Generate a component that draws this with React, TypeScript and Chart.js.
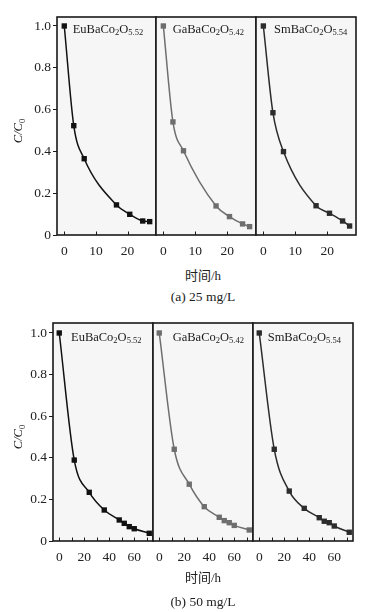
import React, { useEffect, useRef } from 'react';
import { Chart, registerables } from 'chart.js';

Chart.register(...registerables);

// ---------- data ----------
const timesA = [0, 3, 6.3, 16.5, 20.7, 24.8, 27];
const euA = [1.0, 0.523, 0.365, 0.144, 0.099, 0.067, 0.064];
const gaA = [1.0, 0.541, 0.403, 0.139, 0.088, 0.053, 0.04];
const smA = [1.0, 0.585, 0.399, 0.14, 0.104, 0.067, 0.043];

const timesB = [0, 12, 24, 36, 48, 52, 56, 60, 72];
const euB = [1.0, 0.389, 0.234, 0.149, 0.101, 0.085, 0.069, 0.059, 0.037];
const gaB = [1.0, 0.441, 0.273, 0.165, 0.114, 0.098, 0.088, 0.075, 0.053];
const smB = [1.0, 0.441, 0.24, 0.157, 0.112, 0.095, 0.088, 0.072, 0.042];

const yTicks = [0, 0.2, 0.4, 0.6, 0.8, 1.0];
const xLabelTicksA = [0, 10, 20];
const xMarkTicksA = [0, 10, 20];
const xLabelTicksB = [0, 20, 40, 60];
const xMarkTicksB = [0, 10, 20, 30, 40, 50, 60, 70];

const materials = [
  ['EuBaCo', '2', 'O', '5.52'],
  ['GaBaCo', '2', 'O', '5.42'],
  ['SmBaCo', '2', 'O', '5.54'],
];
const yTitleParts = ['C/C', '0'];
const xTitle = '时间/h';
const captions = ['(a) 25 mg/L', '(b) 50 mg/L'];

// ---------- styles / layout ----------
const SERIF = '"Liberation Serif", "Times New Roman", serif';
const TEXT_FONT = '"Liberation Serif", "Noto Sans CJK SC", serif';
const seriesColors = ['#111111', '#6e6e6e', '#2c2c2c'];
const BG = '#f6f6f6';
const FRAME = '#1a1a1a';

type Row = {
  plotTop: number;
  plotBottom: number;
  bounds: number[];
  xMin: number;
  xMax: number;
  yMax: number;
  labelDx: number[];
  labelDy: number;
  times: number[];
  series: number[][];
  xLabelTicks: number[];
  xMarkTicks: number[];
  xTitleY: number;
  captionY: number;
  caption: string;
};

const rows: Row[] = [
  {
    plotTop: 17,
    plotBottom: 235,
    bounds: [57, 156, 256, 356],
    xMin: -2.3,
    xMax: 29,
    yMax: 1.043,
    labelDx: [15.7, 16.7, 18],
    labelDy: 12.3,
    times: timesA,
    series: [euA, gaA, smA],
    xLabelTicks: xLabelTicksA,
    xMarkTicks: xMarkTicksA,
    xTitleY: 275.7,
    captionY: 296.7,
    caption: captions[0],
  },
  {
    plotTop: 323,
    plotBottom: 541,
    bounds: [53, 153, 253, 353],
    xMin: -5,
    xMax: 75,
    yMax: 1.048,
    labelDx: [18, 19.7, 14.7],
    labelDy: 14.7,
    times: timesB,
    series: [euB, gaB, smB],
    xLabelTicks: xLabelTicksB,
    xMarkTicks: xMarkTicksB,
    xTitleY: 578.3,
    captionY: 601.7,
    caption: captions[1],
  },
];

const PAD_TOP = 12;
const X_H = 30;
const SIDE = 8;

function makeFramePlugin(row: Row, idx: number, canvasTop: number) {
  return {
    id: 'frame' + idx,
    beforeDraw(chart: any) {
      const { ctx, chartArea: a } = chart;
      ctx.save();
      ctx.fillStyle = BG;
      ctx.fillRect(a.left, a.top, a.right - a.left, a.bottom - a.top);
      ctx.restore();
    },
    afterDraw(chart: any) {
      const { ctx, chartArea: a } = chart;
      const xs = chart.scales.x;
      ctx.save();
      // inward tick marks
      ctx.strokeStyle = FRAME;
      ctx.lineWidth = 1;
      ctx.beginPath();
      row.xMarkTicks.forEach((v) => {
        const px = Math.round(xs.getPixelForValue(v)) + 0.5;
        ctx.moveTo(px, a.bottom);
        ctx.lineTo(px, a.bottom - 3.5);
      });
      ctx.stroke();
      // frame
      ctx.lineWidth = 1.6;
      ctx.strokeRect(a.left, a.top, a.right - a.left, a.bottom - a.top);
      // material label
      const [p1, s1, p2, s2] = materials[idx];
      const mainF = `12.5px ${SERIF}`;
      const subF = `8.5px ${SERIF}`;
      let x = a.left + row.labelDx[idx];
      const y = a.top + row.labelDy;
      ctx.fillStyle = '#1a1a1a';
      ctx.textBaseline = 'middle';
      ctx.textAlign = 'left';
      ctx.font = mainF;
      ctx.fillText(p1, x, y);
      x += ctx.measureText(p1).width;
      ctx.font = subF;
      ctx.fillText(s1, x, y + 3.5);
      x += ctx.measureText(s1).width;
      ctx.font = mainF;
      ctx.fillText(p2, x, y);
      x += ctx.measureText(p2).width;
      ctx.font = subF;
      ctx.fillText(s2, x, y + 3.5);
      // y title
      if (idx === 0) {
        const cy = (row.plotTop + row.plotBottom) / 2 + 5 - canvasTop;
        ctx.translate(19, cy);
        ctx.rotate(-Math.PI / 2);
        ctx.font = `italic 12.5px ${SERIF}`;
        const w1 = ctx.measureText(yTitleParts[0]).width;
        ctx.font = `8.5px ${SERIF}`;
        const w2 = ctx.measureText(yTitleParts[1]).width;
        const sx = -(w1 + w2) / 2;
        ctx.font = `italic 12.5px ${SERIF}`;
        ctx.fillText(yTitleParts[0], sx, 0);
        ctx.font = `8.5px ${SERIF}`;
        ctx.fillText(yTitleParts[1], sx + w1, 3.5);
      }
      ctx.restore();
    },
  };
}

function Panel({ row, idx }: { row: Row; idx: number }) {
  const ref = useRef<HTMLCanvasElement>(null);
  const b = row.bounds;
  const canvasLeft = idx === 0 ? 0 : b[idx] - SIDE;
  const padLeft = idx === 0 ? 0 : SIDE;
  const width = idx === 0 ? b[1] + SIDE : b[idx + 1] - b[idx] + 2 * SIDE;
  const canvasTop = row.plotTop - PAD_TOP;
  const height = PAD_TOP + (row.plotBottom - row.plotTop) + X_H;

  useEffect(() => {
    const color = seriesColors[idx];
    const vals = row.series[idx];
    const tickFont = { family: SERIF, size: 13.5 };
    const chart = new Chart(ref.current as HTMLCanvasElement, {
      type: 'line',
      data: {
        datasets: [
          {
            data: row.times.map((t, i) => ({ x: t, y: vals[i] })),
            borderColor: color,
            backgroundColor: color,
            borderWidth: 1.5,
            pointStyle: 'rect',
            pointRadius: 3.8,
            pointBorderWidth: 0,
            pointBackgroundColor: color,
            cubicInterpolationMode: 'monotone',
            fill: false,
          } as any,
        ],
      },
      options: {
        animation: false,
        responsive: false,
        devicePixelRatio: 1,
        events: [],
        layout: { padding: { top: PAD_TOP, left: padLeft, right: SIDE, bottom: 0 } },
        plugins: { legend: { display: false }, tooltip: { enabled: false } },
        scales: {
          x: {
            type: 'linear',
            min: row.xMin,
            max: row.xMax,
            afterFit: (s: any) => {
              s.height = X_H;
            },
            afterBuildTicks: (s: any) => {
              s.ticks = row.xLabelTicks.map((v) => ({ value: v }));
            },
            grid: { display: false, drawTicks: false },
            border: { display: false },
            ticks: {
              font: tickFont,
              color: '#222',
              padding: 8,
              maxRotation: 0,
              autoSkip: false,
              callback: (v: any) => String(v),
            },
          },
          y: {
            type: 'linear',
            display: idx === 0,
            min: 0,
            max: row.yMax,
            afterFit: (s: any) => {
              s.width = idx === 0 ? b[0] : 0;
            },
            afterBuildTicks: (s: any) => {
              s.ticks = yTicks.map((v) => ({ value: v }));
            },
            grid: {
              display: true,
              drawOnChartArea: false,
              drawTicks: true,
              tickLength: 4,
              color: FRAME,
              lineWidth: 1,
            },
            border: { display: false },
            ticks: {
              font: tickFont,
              color: '#222',
              padding: 2,
              callback: (v: any) => (Number(v) === 0 ? '0' : Number(v).toFixed(1)),
            },
          },
        },
      } as any,
      plugins: [makeFramePlugin(row, idx, canvasTop)],
    });
    return () => chart.destroy();
  }, []);

  return (
    <canvas
      ref={ref}
      width={width}
      height={height}
      style={{ position: 'absolute', left: canvasLeft, top: canvasTop, width, height }}
    />
  );
}

const textStyle = (cy: number, size: number): React.CSSProperties => ({
  position: 'absolute',
  left: 0,
  width: 406,
  top: cy - 9,
  height: 18,
  lineHeight: '18px',
  textAlign: 'center',
  fontFamily: TEXT_FONT,
  fontSize: size,
  color: '#222',
  whiteSpace: 'nowrap',
});

export default function App() {
  return (
    <div
      style={{
        position: 'absolute',
        left: 0,
        top: 0,
        width: 381,
        height: 612,
        background: '#ffffff',
        overflow: 'hidden',
      }}
    >
      {rows.map((row, r) => (
        <React.Fragment key={r}>
          {[0, 1, 2].map((i) => (
            <Panel key={i} row={row} idx={i} />
          ))}
          <div style={textStyle(row.xTitleY, 13)}>{xTitle}</div>
          <div style={textStyle(row.captionY, 13.5)}>{row.caption}</div>
        </React.Fragment>
      ))}
    </div>
  );
}
